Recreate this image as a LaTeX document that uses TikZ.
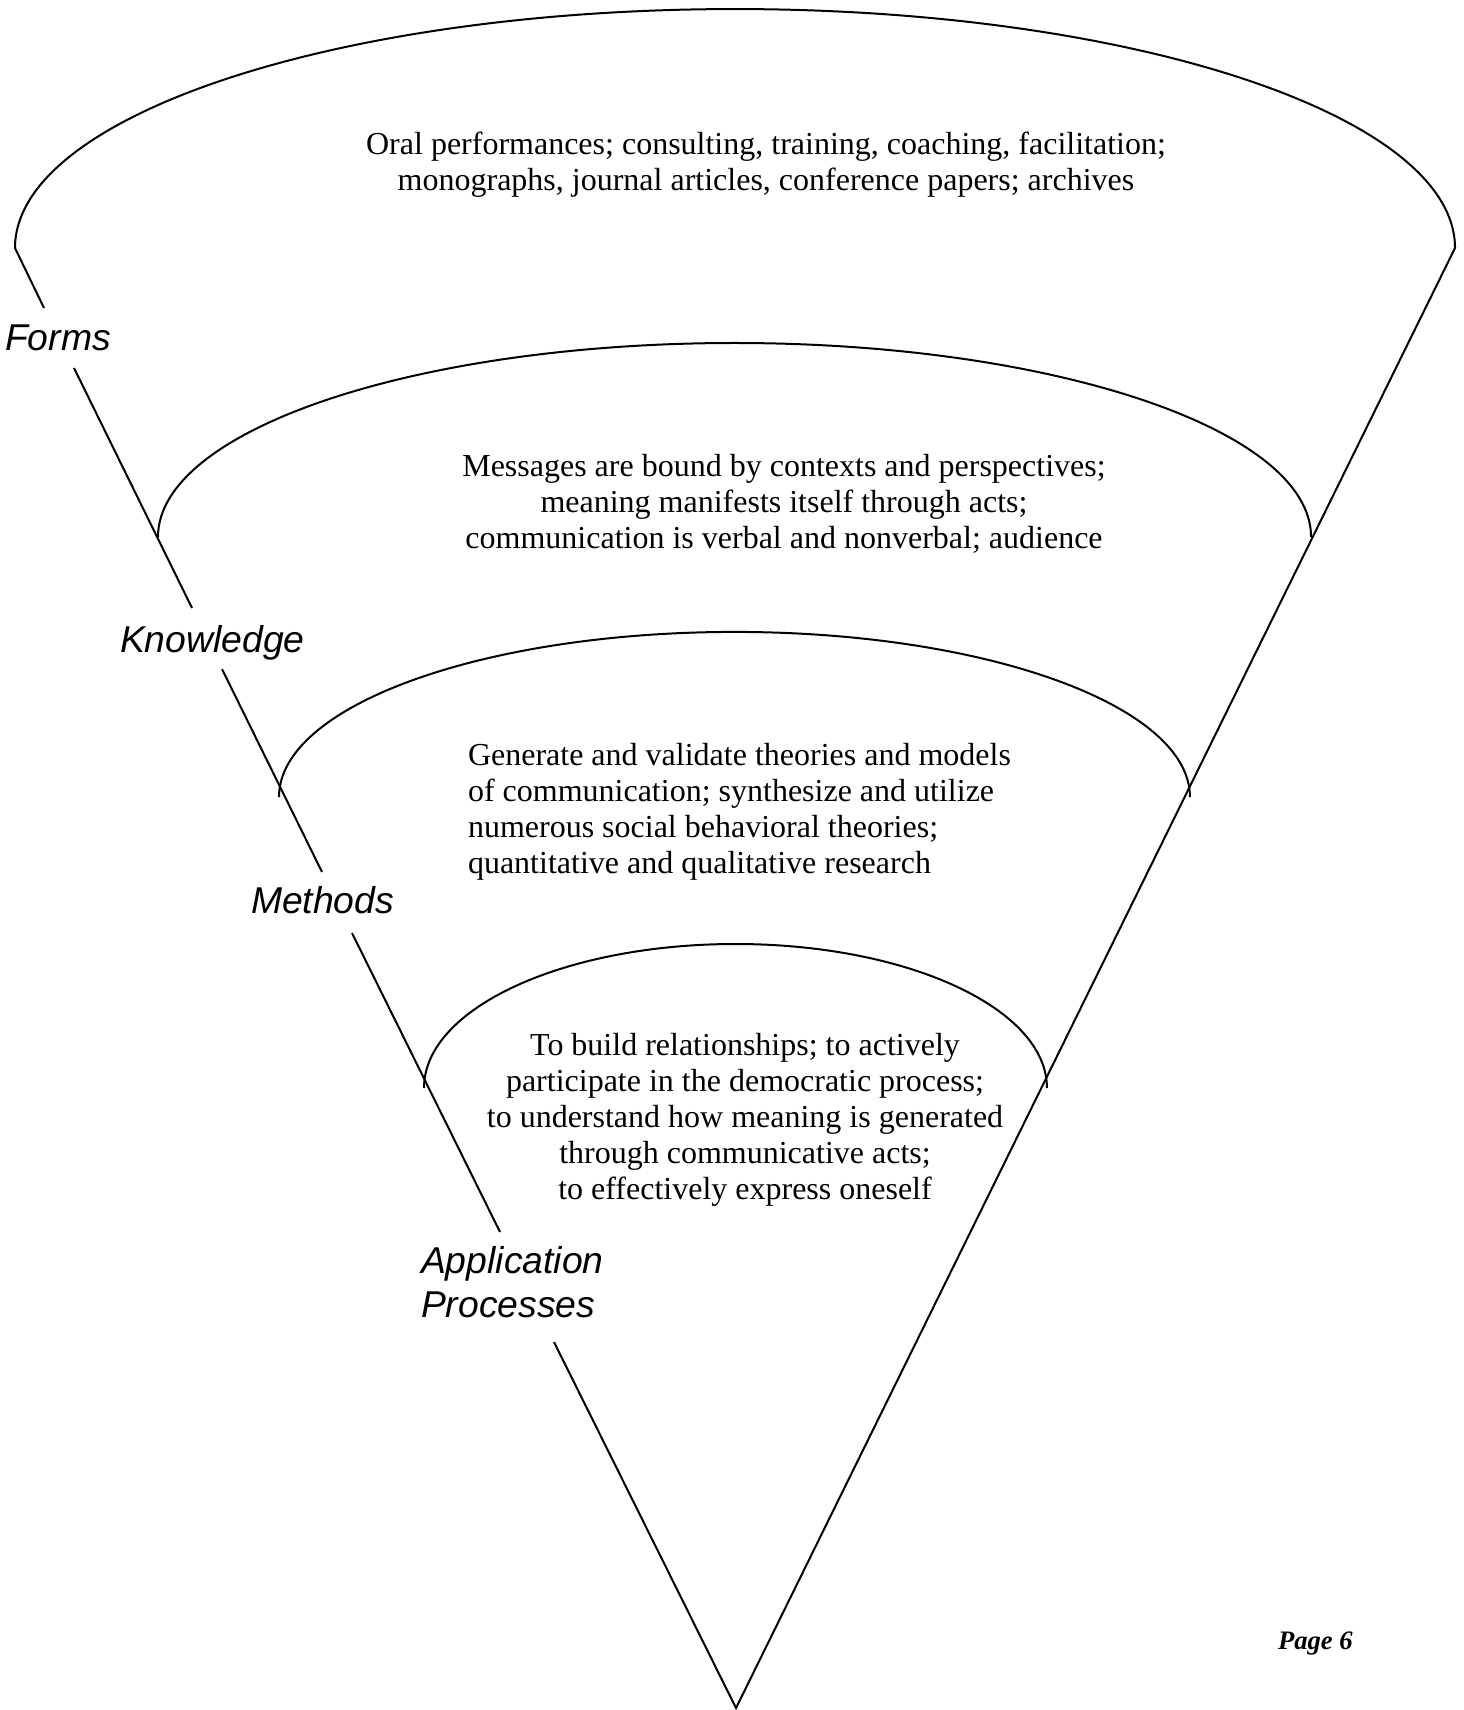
\documentclass[tikz,border=0pt]{standalone}
\usepackage{fontspec}
\setmainfont{Liberation Serif}
\newfontfamily\arialfont{Liberation Sans}
\begin{document}
\begin{tikzpicture}[x=0.375pt,y=-0.375pt, line width=0.75pt,
  body/.style={font=\fontsize{12}{13.5}\selectfont, inner sep=0pt, anchor=base},
  lbl/.style={font=\arialfont\itshape\fontsize{14}{16.5}\selectfont, inner sep=0pt, anchor=base west, align=left},
  ]
\useasboundingbox (0,0) rectangle (1463,1710);
% cone outline coordinates
\coordinate (oL) at (15,248);
\coordinate (oR) at (1455,248);
\coordinate (apex) at (736,1708);
\coordinate (f1) at (44,308);  \coordinate (f2) at (74,368);
\coordinate (k1) at (192,608); \coordinate (k2) at (222,669);
\coordinate (m1) at (322,872); \coordinate (m2) at (352,933);
\coordinate (a1) at (500,1232); \coordinate (a2) at (554,1342);
\coordinate (kL) at (158,537);
\coordinate (mL) at (279,797);
\coordinate (pL) at (424,1088);
% arcs
\draw (oL) arc[start angle=180,end angle=0,x radius=270pt,y radius=89.6pt];
\draw (kL) arc[start angle=180,end angle=0,x radius=216.2pt,y radius=72.75pt];
\draw (mL) arc[start angle=180,end angle=0,x radius=170.8pt,y radius=61.9pt];
\draw (pL) arc[start angle=180,end angle=0,x radius=116.8pt,y radius=54pt];
% cone sides
\draw (oL) -- (f1) (f2) -- (k1) (k2) -- (m1) (m2) -- (a1) (a2) -- (apex) -- (oR);
% labels (anchor base = baseline of the last line)
\node[lbl] (forms) at (4,351) {Forms};
\node[lbl] (knowledge) at (119,652) {Knowledge};
\node[lbl] (methods) at (250,913) {Methods};
\node[lbl] (application) at (420,1317) {Application\\Processes};
% texts
\node[body, align=center] (tforms) at (766,191) {Oral performances; consulting, training, coaching, facilitation;\\monographs, journal articles, conference papers; archives};
\node[body, align=center] (tknow) at (784,549) {Messages are bound by contexts and perspectives;\\meaning manifests itself through acts;\\communication is verbal and nonverbal; audience};
\node[body, align=left, anchor=base west] (tmeth) at (467,873) {Generate and validate theories and models\\of communication; synthesize and utilize\\numerous social behavioral theories;\\quantitative and qualitative research};
\node[body, align=center] (tappl) at (745,1199) {To build relationships; to actively\\participate in the democratic process;\\to understand how meaning is generated\\through communicative acts;\\to effectively express oneself};
\node[font=\bfseries\itshape\fontsize{10}{12}\selectfont, inner sep=0pt, anchor=base west] (page) at (1277,1649) {Page 6};
\end{tikzpicture}
\end{document}
